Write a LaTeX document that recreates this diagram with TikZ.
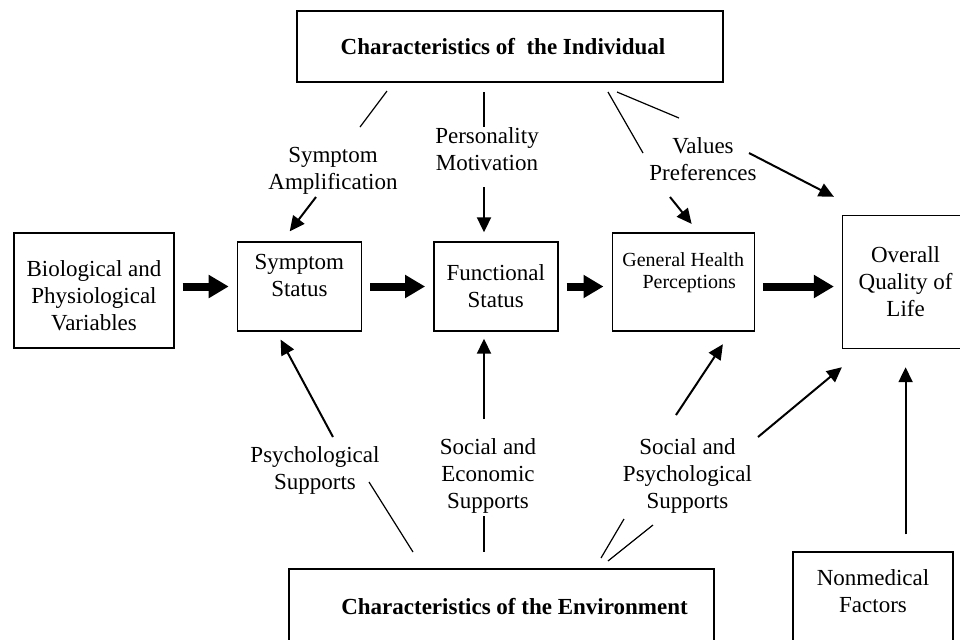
\documentclass[tikz,border=0pt]{standalone}
\usepackage{fontspec}
\setmainfont{Liberation Serif}
\usetikzlibrary{arrows.meta,positioning}

\begin{document}
\begin{tikzpicture}[
    x=0.5pt, y=-0.5pt,
    every node/.style={font=\fontsize{11.5pt}{13.5pt}\selectfont},
    box/.style={
        draw,
        line width=0.7pt,
        align=center,
        inner sep=0pt
    },
    lbl/.style={align=center, inner sep=0pt},
    fat/.style={-{Triangle[length=10pt,width=11pt]}, line width=4pt,
        shorten <=4pt, shorten >=4pt},
    arrow/.style={-{Triangle[length=7.5pt,width=7pt]}, line width=1pt},
    link/.style={line width=0.6pt}
]
\useasboundingbox (0,0) rectangle (960,639);
\clip (0,0) rectangle (960,639);

% Main row of boxes
\node[box, minimum width=80pt, minimum height=57.5pt] (bio) at (94,290.5) {\rule{0pt}{13.5pt}Biological and\\Physiological\\Variables};
\node[box, minimum width=62pt, minimum height=44.5pt, right=31pt of bio, yshift=2pt] (sym) {Symptom\\Status\\[-2.5pt]};
\node[box, minimum width=62pt, minimum height=44.5pt, right=35.5pt of sym] (func) {Functional\\Status};
\node[box, minimum width=71pt, minimum height=49pt, right=26.5pt of func, yshift=2.25pt,
      font=\fontsize{10pt}{11pt}\selectfont] (ghp) {General Health\\\hspace*{6pt}Perceptions\\};
\node[box, minimum width=63pt, minimum height=66.5pt, right=43.5pt of ghp] (qol) {Overall\\Quality of\\Life};

% Characteristics boxes (top and bottom)
\node[box, minimum width=213pt, minimum height=35.5pt, font=\fontsize{11.5pt}{13.5pt}\selectfont\bfseries] (indiv) at (510,46.5) {Characteristics of\ \ the Individual\hspace*{7pt}};
\node[box, minimum width=212.5pt, minimum height=38pt, font=\fontsize{11.5pt}{13.5pt}\selectfont\bfseries] (env) at (501.5,607) {\hspace*{13pt}Characteristics of the Environment};
\node[box, minimum width=80pt, minimum height=50pt] (nonmed) at (873,602) {Nonmedical\\Factors\\[-3pt]};

% Labels
\node[lbl] (amp) at (333,171) {Symptom\\Amplification};
\node[lbl] (pers) at (487,149.5) {Personality\\Motivation};
\node[lbl] (vals) at (703,159) {Values\\Preferences};
\node[lbl] (psy) at (315,470.5) {Psychological\\Supports};
\node[lbl] (soce) at (488,476) {Social and\\Economic\\Supports};
\node[lbl] (socp) at (687.5,476) {Social and\\Psychological\\Supports};

% Free ends of the connectors
\coordinate (ampA) at (387,91);
\coordinate (ampB) at (360,127);
\coordinate (ampC) at (316,197);
\coordinate (persA) at (484,92);
\coordinate (persB) at (484,127);
\coordinate (persC) at (484,187);
\coordinate (valsA) at (608,92);
\coordinate (valsB) at (643,153);
\coordinate (valsC) at (617,92);
\coordinate (valsD) at (679,118);
\coordinate (valsE) at (670,197);
\coordinate (valsF) at (749,153);
\coordinate (psyA) at (333,437);
\coordinate (psyB) at (369,482);
\coordinate (psyC) at (413,552);
\coordinate (soceA) at (484,419);
\coordinate (soceB) at (484,516);
\coordinate (soceC) at (484,552);
\coordinate (socpA) at (676,415);
\coordinate (socpB) at (758,437);
\coordinate (socpC) at (624,519);
\coordinate (socpD) at (601,558);
\coordinate (socpE) at (653,525);
\coordinate (socpF) at (608,561);

% Main flow
\draw[fat] (bio.east |- sym) -- (sym);
\draw[fat] (sym) -- (func);
\draw[fat] (func) -- (ghp.west |- func);
\draw[fat] (ghp.east |- func) -- (qol.west |- func);

% Individual
\draw[link] (ampA) -- (ampB);
\draw[arrow, shorten >=6.3pt] (ampC) -- (sym.111);
\draw[link] (persA) -- (persB);
\draw[arrow, shorten >=4.5pt] (persC) -- (persC |- func.north);
\draw[link] (valsA) -- (valsB);
\draw[link] (valsC) -- (valsD);
\draw[arrow, shorten >=5.4pt] (valsE) -- (ghp.73);
\draw[arrow] (valsF) -- ([xshift=-4pt,yshift=9pt]qol.north west);

% Environment
\draw[arrow, shorten >=4.5pt] (psyA) -- (sym.243);
\draw[link] (psyB) -- (psyC);
\draw[arrow, shorten >=3.5pt] (soceA) -- (soceA |- func.south);
\draw[link] (soceB) -- (soceC);
\draw[arrow, shorten >=7.5pt] (socpA) -- (ghp.314);
\draw[arrow] (socpB) -- ([yshift=-9pt]qol.south west);
\draw[link] (socpC) -- (socpD);
\draw[link] (socpE) -- (socpF);

% Nonmedical factors
\draw[arrow, shorten <=8.5pt, shorten >=9pt] (nonmed.north -| qol.south) -- (qol.south);

\end{tikzpicture}
\end{document}
